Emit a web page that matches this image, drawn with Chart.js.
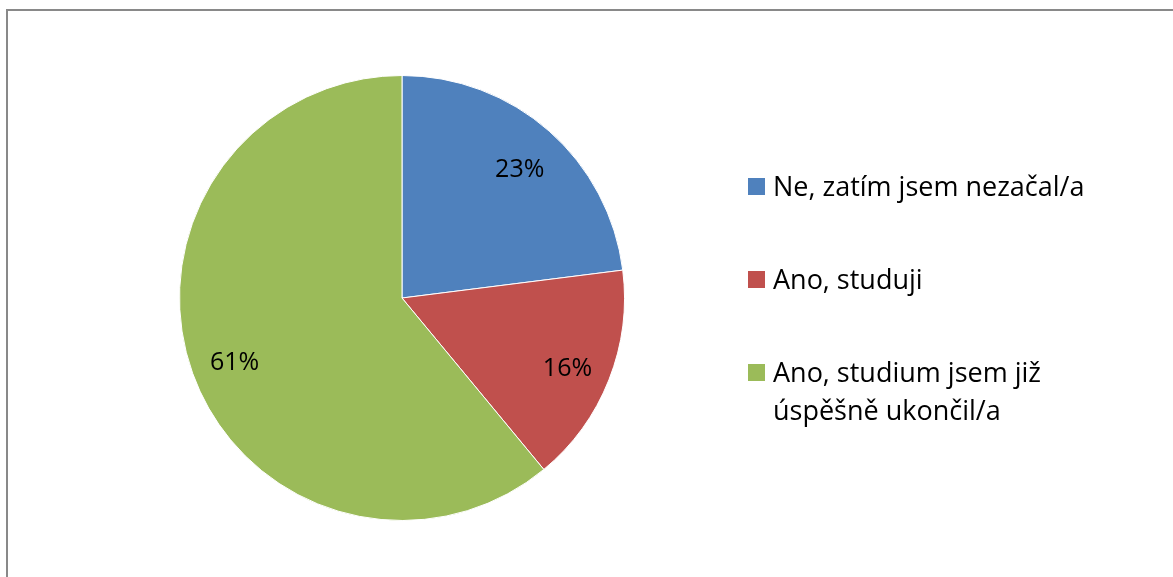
<!DOCTYPE html>
<html>
<head>
<meta charset="utf-8">
<script src="https://cdn.jsdelivr.net/npm/chart.js@4/dist/chart.umd.min.js"></script>
<style>
  html, body { margin: 0; padding: 0; background: #fff; overflow: hidden; }
  #wrap { position: relative; width: 1173px; height: 577px; }
  #frame { position: absolute; left: 6px; top: 9px; width: 1200px; height: 600px; border: 2px solid #898989; box-sizing: border-box; }
  canvas { position: absolute; left: 0; top: 0; }
</style>
</head>
<body>
<div id="wrap">
  <div id="frame"></div>
  <canvas id="pie" width="1173" height="577"></canvas>
</div>
<script>
let labels = ["Ne, zatím jsem nezačal/a", "Ano, studuji", "Ano, studium jsem již úspěšně ukončil/a"];
let legendLines = [["Ne, zatím jsem nezačal/a"], ["Ano, studuji"], ["Ano, studium jsem již", "úspěšně ukončil/a"]];
let values = [23, 16, 61];
let colors = ["#4F81BD", "#C0504D", "#9BBB59"];

let fontFamily = "'Open Sans', sans-serif";

// percentage labels inside the slices
let sliceLabels = {
  id: "sliceLabels",
  afterDatasetsDraw(chart) {
    let ctx = chart.ctx;
    let meta = chart.getDatasetMeta(0);
    let total = values.reduce((a, b) => a + b, 0);
    ctx.save();
    ctx.font = "25px " + fontFamily;
    ctx.fillStyle = "#000";
    ctx.textAlign = "center";
    ctx.textBaseline = "middle";
    meta.data.forEach(function(arc, i) {
      let p = arc.getProps(["x", "y", "startAngle", "endAngle", "outerRadius"], true);
      let mid = (p.startAngle + p.endAngle) / 2;
      let r = p.outerRadius * 0.8;
      let pct = Math.round(values[i] / total * 100) + "%";
      ctx.fillText(pct, p.x + Math.cos(mid) * r, p.y + Math.sin(mid) * r + 5);
    });
    ctx.restore();
  }
};

// legend on the right side, wrapped like the original
let sideLegend = {
  id: "sideLegend",
  afterDraw(chart) {
    let ctx = chart.ctx;
    let rowTops = [178, 271, 364];
    ctx.save();
    ctx.font = "27px " + fontFamily;
    ctx.textBaseline = "alphabetic";
    ctx.textAlign = "left";
    legendLines.forEach(function(lines, i) {
      ctx.fillStyle = colors[i];
      ctx.fillRect(748, rowTops[i], 17, 17);
      ctx.fillStyle = "#000";
      lines.forEach(function(line, j) {
        ctx.fillText(line, 773, rowTops[i] + 18 + j * 38);
      });
    });
    ctx.restore();
  }
};

let chart = new Chart(document.getElementById("pie").getContext("2d"), {
  type: "pie",
  data: {
    labels: labels,
    datasets: [{
      data: values,
      backgroundColor: colors,
      borderColor: "#fff",
      borderWidth: 1
    }]
  },
  options: {
    responsive: false,
    animation: false,
    layout: { padding: { left: 179, top: 75, right: 548, bottom: 56 } },
    plugins: {
      legend: { display: false },
      tooltip: { enabled: false }
    }
  },
  plugins: [sliceLabels, sideLegend]
});
</script>
</body>
</html>
